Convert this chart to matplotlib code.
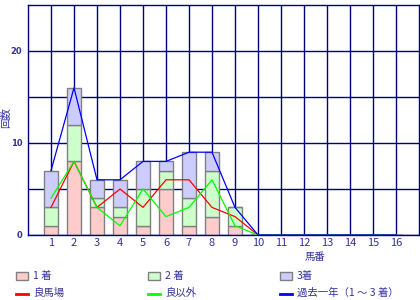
import matplotlib
matplotlib.use("Agg")
import matplotlib.pyplot as plt
from matplotlib.patches import Rectangle
from matplotlib.lines import Line2D
import numpy as np

plt.rcParams['font.family'] = ['Noto Sans CJK JP', 'DejaVu Sans']

horses = list(range(1, 17))
first = [1, 8, 3, 2, 1, 5, 1, 2, 1, 0, 0, 0, 0, 0, 0, 0]
second = [2, 4, 1, 1, 4, 2, 3, 5, 2, 0, 0, 0, 0, 0, 0, 0]
third = [4, 4, 2, 3, 3, 1, 5, 2, 0, 0, 0, 0, 0, 0, 0, 0]
good = [3, 8, 3, 5, 3, 6, 6, 3, 2, 0, 0, 0, 0, 0, 0, 0]
other = [4, 8, 3, 1, 5, 2, 3, 6, 1, 0, 0, 0, 0, 0, 0, 0]
year_total = [7, 16, 6, 6, 8, 8, 9, 9, 3, 0, 0, 0, 0, 0, 0, 0]

legend_bar_labels = ['1 着', '2 着', '3着']
legend_line_labels = ['良馬場', '良以外', '過去一年（1 ～ 3 着）']

W, H = 420, 300
fig = plt.figure(figsize=(W / 100, H / 100), dpi=100)
ax = fig.add_axes([28 / W, 1 - 235 / H, (419 - 28) / W, (235 - 5) / H])

navy = '#000080'
txt = '#333399'
edge = '#808080'
c1, c2, c3 = '#FFCCCC', '#CCFFCC', '#CCCCFF'

x = np.array(horses)
f = np.array(first); s = np.array(second); t = np.array(third)
bw = 0.58
ax.bar(x, f, width=bw, color=c1, edgecolor=edge, linewidth=1, zorder=2)
ax.bar(x, s, width=bw, bottom=f, color=c2, edgecolor=edge, linewidth=1, zorder=2)
ax.bar(x, t, width=bw, bottom=f + s, color=c3, edgecolor=edge, linewidth=1, zorder=2)

ax.plot(x, good, color='#FF0000', lw=0.9, zorder=3)
ax.plot(x, other, color='#00FF00', lw=0.9, zorder=3)
ax.plot(x, year_total, color='#0000FF', lw=0.9, zorder=4)

ax.set_xlim(0, 17)
ax.set_ylim(0, 25)
ax.set_xticks(horses)
ax.set_xticklabels([str(h) for h in horses], color=txt, fontsize=8)
ax.set_yticks([0, 10, 20])
ax.set_yticks([5, 15], minor=True)
ax.set_yticklabels(['0', '10', '20'], color=txt, fontsize=6, fontweight='bold',
                   family='DejaVu Sans')
ax.tick_params(axis='both', which='both', length=0)
ax.tick_params(axis='y', pad=4)
ax.tick_params(axis='x', pad=2)
ax.grid(True, which='both', color=navy, linewidth=1)
ax.set_axisbelow(True)
for sp in ax.spines.values():
    sp.set_color(navy)
    sp.set_linewidth(1)

fig.text(5.5 / W, 1 - 118 / H, '回数', rotation=90, ha='center', va='center',
         color=txt, fontsize=7.5)
fig.text(315 / W, 1 - 257 / H, '馬番', ha='center', va='center', color=txt, fontsize=7.5)

cols = [16, 148, 280]
for cx, col, lab in zip(cols, [c1, c2, c3], legend_bar_labels):
    fig.add_artist(Rectangle((cx / W, 1 - 280 / H), 12 / W, 8 / H, transform=fig.transFigure,
                             facecolor=col, edgecolor=edge, linewidth=1))
    fig.text((cx + 17) / W, 1 - 276 / H, lab, ha='left', va='center', color=txt, fontsize=7.5)
for cx, col, lab in zip(cols, ['#FF0000', '#00FF00', '#0000FF'], legend_line_labels):
    fig.add_artist(Line2D([cx / W, (cx + 12) / W], [1 - 293.5 / H] * 2, transform=fig.transFigure,
                          color=col, linewidth=2))
    fig.text((cx + 17) / W, 1 - 293 / H, lab, ha='left', va='center', color=txt, fontsize=7.5)

fig.savefig('out.png', dpi=100)
